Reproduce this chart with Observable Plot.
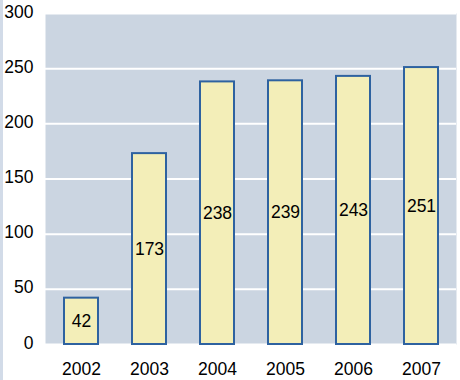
<!DOCTYPE html>
<html>
<head>
<meta charset="utf-8">
<script src="https://cdn.jsdelivr.net/npm/d3@7"></script>
<script src="https://cdn.jsdelivr.net/npm/@observablehq/plot@0.6"></script>
<style>
  html, body { margin: 0; padding: 0; background: #fff; }
  #wrap { position: relative; width: 460px; height: 380px; overflow: hidden; }
  #strip { position: absolute; left: 0; top: 0; width: 3px; height: 380px; background: #d2dbe8; }
  svg { font-family: "Liberation Sans", Arial, sans-serif; display: block; }
</style>
</head>
<body>
<div id="wrap"><div id="strip"></div></div>
<script>
const years = ["2002", "2003", "2004", "2005", "2006", "2007"];
const values = [42, 173, 238, 239, 243, 251];
const yTicks = [0, 50, 100, 150, 200, 250, 300];

const data = years.map((y, i) => ({year: y, value: values[i]}));

const chart = Plot.plot({
  width: 460,
  height: 380,
  marginLeft: 45,
  marginRight: 4,
  marginTop: 13,
  marginBottom: 36,
  style: {fontFamily: '"Liberation Sans", Arial, sans-serif', fontSize: "17.5px", color: "#000", background: "transparent"},
  x: {domain: years, paddingInner: 0.5, paddingOuter: 0.25, label: null},
  y: {domain: [0, 300], label: null},
  marks: [
    Plot.frame({fill: "#cbd5e1", stroke: null}),
    Plot.gridY(yTicks, {stroke: "#ffffff", strokeOpacity: 1, strokeWidth: 2}),
    Plot.axisX({tickSize: 0, tickPadding: 18, fontSize: 17.5, label: null}),
    Plot.axisY({ticks: yTicks, tickSize: 0, tickPadding: 12, fontSize: 17.5, dy: -1.5, label: null}),
    Plot.barY(data, {x: "year", y: "value", fill: "#f3eeb8", stroke: "#2e62a0", strokeWidth: 2}),
    Plot.text(data, {x: "year", y: d => d.value / 2, text: d => String(d.value), fontSize: 17.5, fill: "#000"})
  ]
});
document.getElementById("wrap").appendChild(chart);
chart.style.position = "absolute";
chart.style.left = "0";
chart.style.top = "0";
</script>
</body>
</html>
